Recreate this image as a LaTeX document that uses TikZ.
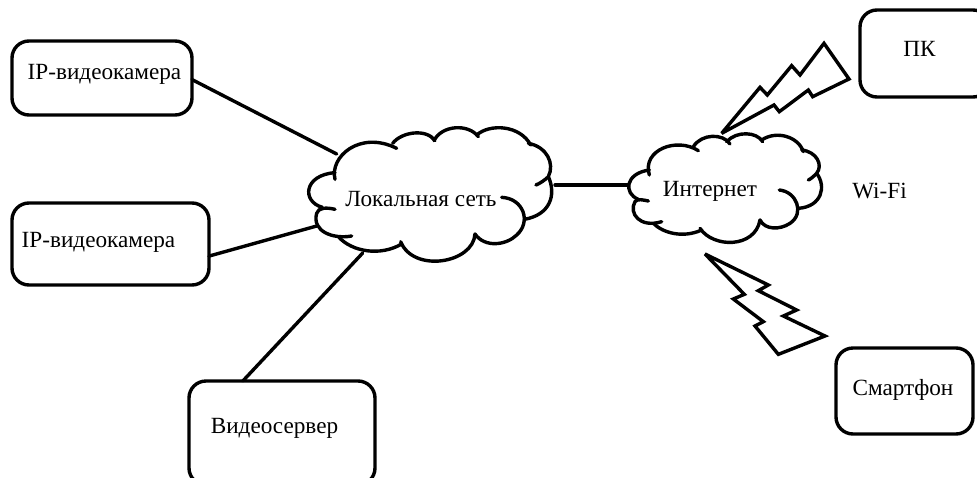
\documentclass[tikz,border=0pt]{standalone}
\usepackage{fontspec}
\setmainfont{Liberation Serif}
\tikzset{
  devbox/.style={draw=black,line width=3.4pt,rounded corners=17pt,inner sep=0pt,outer sep=0pt},
  lbl/.style={inner sep=0pt,outer sep=0pt,font=\fontsize{23.2}{27}\selectfont,text=black},
  link/.style={draw=black,line width=3.4pt,line cap=round},
  lobe/.style={draw=black,line width=3.4pt,line cap=round},
  bolt/.style={draw=black,line width=3.4pt,line join=miter,miter limit=4}
}
\begin{document}
\begin{tikzpicture}[x=1pt,y=-1pt]
\useasboundingbox (0,0) rectangle (977,477);
\clip (0,0) rectangle (977,477);
% boxes
\node[devbox,minimum width=180pt,minimum height=74pt] (cam1) at (102,78) {};
\node[devbox,minimum width=197pt,minimum height=82pt] (cam2) at (110.5,244) {};
\node[devbox,minimum width=186pt,minimum height=104pt] (srv) at (282,433) {};
\node[devbox,minimum width=130pt,minimum height=87pt] (pc) at (925,53.5) {};
\node[devbox,minimum width=137pt,minimum height=86pt] (phone) at (904.5,391) {};
% labels
\node[lbl] (tcam1) at (104.5,74) {IP-видеокамера};
\node[lbl] (tcam2) at (98.5,242) {IP-видеокамера};
\node[lbl] (tsrv) at (274.5,428) {Видеосервер};
\node[lbl] (tpc) at (919.5,49) {ПК};
\node[lbl] (tphone) at (903,389.5) {Смартфон};
\node[lbl] (twifi) at (879.5,191) {Wi-Fi};
\node[lbl] (tinet) at (710,191.5) {Интернет};
\node[lbl] (tlan) at (421,199) {Локальная сеть};
% connector ends on the clouds
\coordinate (lanA) at (336.7,154);
\coordinate (lanB) at (316.7,226);
\coordinate (lanC) at (362.7,253);
\coordinate (lanE) at (555,185);
\coordinate (inetW) at (628,185);
\draw[link] (cam1.-1.7) -- (lanA);
\draw[link] (cam2.-7.5) -- (lanB);
\draw[link] (srv.127.8) -- (lanC);
\draw[link] (lanE) -- (inetW);
% local network cloud
\begin{scope}[x=.33333pt,y=-.33333pt,shift={(290pt,-120pt)}]
\draw[lobe] (135,178) .. controls (118,110) and (210,30) .. (320,85);
\draw[lobe] (308,70) .. controls (335,35) and (410,25) .. (435,62);
\draw[lobe] (432,62) .. controls (455,15) and (535,10) .. (565,50);
\draw[lobe] (560,45) .. controls (600,10) and (690,15) .. (722,75);
\draw[lobe] (715,70) .. controls (770,80) and (795,130) .. (775,170) .. controls (765,180) and (750,190) .. (738,195);
\draw[lobe] (775,170) .. controls (800,225) and (780,285) .. (703,298);
\draw[lobe] (635,232) .. controls (700,235) and (725,305) .. (680,345) .. controls (650,375) and (585,385) .. (555,342);
\draw[lobe] (555,342) .. controls (550,430) and (370,460) .. (332,365);
\draw[lobe] (335,372) .. controls (270,410) and (185,395) .. (145,350);
\draw[lobe] (185,348) .. controls (130,358) and (65,335) .. (80,280) .. controls (85,262) and (110,262) .. (135,268);
\draw[lobe] (97,262) .. controls (35,245) and (40,165) .. (135,158);
\end{scope}
% internet cloud
\begin{scope}[x=.33333pt,y=-.33333pt,shift={(620pt,0pt)}]
\draw[lobe] (88,525) .. controls (65,450) and (170,410) .. (235,452);
\draw[lobe] (220,440) .. controls (245,400) and (310,400) .. (330,432);
\draw[lobe] (320,425) .. controls (350,392) and (410,395) .. (428,425);
\draw[lobe] (425,420) .. controls (470,390) and (535,410) .. (550,455);
\draw[lobe] (545,450) .. controls (590,455) and (610,495) .. (590,520) .. controls (580,530) and (572,537) .. (565,540);
\draw[lobe] (590,520) .. controls (620,560) and (605,620) .. (535,625);
\draw[lobe] (478,570) .. controls (530,575) and (555,640) .. (510,670) .. controls (480,690) and (435,690) .. (420,660);
\draw[lobe] (420,660) .. controls (405,745) and (280,745) .. (240,685);
\draw[lobe] (245,690) .. controls (190,715) and (130,700) .. (100,670);
\draw[lobe] (125,665) .. controls (60,685) and (25,640) .. (45,605) .. controls (52,595) and (70,600) .. (85,603);
\draw[lobe] (55,598) .. controls (10,580) and (15,520) .. (88,510);
% upper bolt
\draw[bolt] (305,400) -- (420,262) -- (442,285) -- (515,197) -- (540,225) -- (612,130) -- (687,237) -- (578,290) -- (565,270) -- (478,335) -- (462,315) -- cycle;
\end{scope}
% lower bolt
\begin{scope}[x=.33333pt,y=-.33333pt,shift={(690pt,-240pt)}]
\draw[bolt] (45,42) -- (235,135) -- (205,152) -- (320,210) -- (280,228) -- (405,288) -- (265,343) -- (195,258) -- (220,245) -- (130,177) -- (163,163) -- cycle;
\end{scope}
\end{tikzpicture}
\end{document}
